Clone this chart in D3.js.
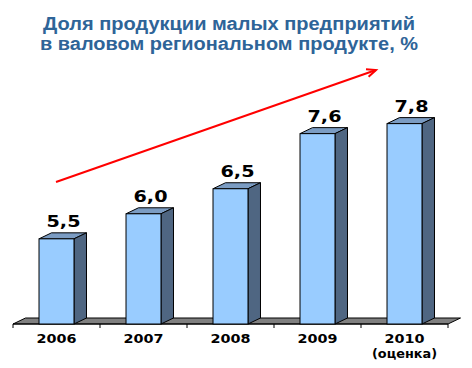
<!DOCTYPE html>
<html><head><meta charset="utf-8">
<script src="https://cdn.jsdelivr.net/npm/d3@7"></script>
<style>html,body{margin:0;padding:0;background:#fff;}svg{display:block;}</style>
</head><body>
<script>
const titleLines = ["Доля продукции малых предприятий", "в валовом региональном продукте, %"];
const categories = ["2006", "2007", "2008", "2009", "2010"];
const categorySubLabels = ["", "", "", "", "(оценка)"];
const values = [5.5, 6.0, 6.5, 7.6, 7.8];
const valueLabels = ["5,5", "6,0", "6,5", "7,6", "7,8"];

const W = 472, H = 368;
const svg = d3.select("body").append("svg").attr("width", W).attr("height", H);
svg.append("rect").attr("width", W).attr("height", H).attr("fill", "#ffffff");

const baseY = 324, dx = 12.5, dy = -6;
const x = d3.scaleBand().domain(categories).range([13, 448]).paddingInner(0.598).paddingOuter(0.299);
const y = d3.scaleLinear().domain([3.8, 8.0]).range([baseY, 113.6]);

// title
const tl = [[372, 29.5], [378, 50]];
titleLines.forEach((t, i) => {
  svg.append("text").attr("x", 229).attr("y", tl[i][1]).attr("text-anchor", "middle")
    .attr("font-family", "Liberation Sans, Arial, sans-serif").attr("font-weight", "bold")
    .attr("font-size", 18).attr("fill", "#2e6498")
    .attr("textLength", tl[i][0]).attr("lengthAdjust", "spacingAndGlyphs").text(t);
});

// floor
const x0 = x.range()[0], x1 = x.range()[1];
svg.append("path").attr("d", `M${x0},${baseY}L${x0+dx},${baseY+dy}L${x1+dx},${baseY+dy}L${x1},${baseY}Z`)
  .attr("fill", "#808080").attr("stroke", "#000").attr("stroke-width", 1);

// axis line & ticks
const step = x.step();
const tickXs = d3.range(categories.length + 1).map(i => x0 + i * step);
svg.append("line").attr("x1", x0).attr("x2", x1).attr("y1", baseY).attr("y2", baseY).attr("stroke", "#000");
svg.selectAll("line.tick").data(tickXs).enter().append("line").attr("class", "tick")
  .attr("x1", d => d).attr("x2", d => d).attr("y1", baseY).attr("y2", baseY + 4).attr("stroke", "#000");

// bars
const bw = x.bandwidth();
const g = svg.selectAll("g.bar").data(values).enter().append("g").attr("class", "bar");
g.append("path").attr("d", (d, i) => {
  const l = x(categories[i]), r = l + bw, t = y(d);
  return `M${l},${t}L${l+dx},${t+dy}L${r+dx},${t+dy}L${r},${t}Z`;
}).attr("fill", "#7b9cc3").attr("stroke", "#000").attr("stroke-width", 1);
g.append("path").attr("d", (d, i) => {
  const r = x(categories[i]) + bw, t = y(d);
  return `M${r},${t}L${r+dx},${t+dy}L${r+dx},${baseY+dy}L${r},${baseY}Z`;
}).attr("fill", "#4f6682").attr("stroke", "#000").attr("stroke-width", 1);
g.append("rect").attr("x", (d, i) => x(categories[i])).attr("y", d => y(d))
  .attr("width", bw).attr("height", d => baseY - y(d))
  .attr("fill", "#99ccff").attr("stroke", "#000").attr("stroke-width", 1);

// value labels
g.append("text").attr("x", (d, i) => x(categories[i]) + bw / 2 + 7).attr("y", d => y(d) - 11.5)
  .attr("text-anchor", "middle").attr("font-family", "DejaVu Sans, sans-serif").attr("font-weight", "bold")
  .attr("font-size", 15).attr("fill", "#000")
  .attr("textLength", 34).attr("lengthAdjust", "spacingAndGlyphs")
  .text((d, i) => valueLabels[i]);

// category labels
categories.forEach((c, i) => {
  const cx = x(c) + bw / 2;
  svg.append("text").attr("x", cx).attr("y", 343).attr("text-anchor", "middle")
    .attr("font-family", "DejaVu Sans, sans-serif").attr("font-weight", "bold").attr("font-size", 12)
    .attr("fill", "#000").attr("textLength", 40).attr("lengthAdjust", "spacingAndGlyphs").text(c);
  if (categorySubLabels[i]) {
    svg.append("text").attr("x", cx).attr("y", 357.5).attr("text-anchor", "middle")
      .attr("font-family", "DejaVu Sans, sans-serif").attr("font-weight", "bold").attr("font-size", 12)
      .attr("fill", "#000").attr("textLength", 65).attr("lengthAdjust", "spacingAndGlyphs").text(categorySubLabels[i]);
  }
});

// trend arrow
const ax1 = 56, ay1 = 182, ax2 = 376, ay2 = 70;
svg.append("line").attr("x1", ax1).attr("y1", ay1).attr("x2", ax2).attr("y2", ay2)
  .attr("stroke", "#ff0000").attr("stroke-width", 2);
const ang = Math.atan2(ay2 - ay1, ax2 - ax1);
const hl = 10, ha = 0.4;
svg.append("path").attr("d",
  `M${ax2 - hl*Math.cos(ang - ha)},${ay2 - hl*Math.sin(ang - ha)}L${ax2},${ay2}L${ax2 - hl*Math.cos(ang + ha)},${ay2 - hl*Math.sin(ang + ha)}`)
  .attr("fill", "none").attr("stroke", "#ff0000").attr("stroke-width", 2);
</script>
</body></html>
